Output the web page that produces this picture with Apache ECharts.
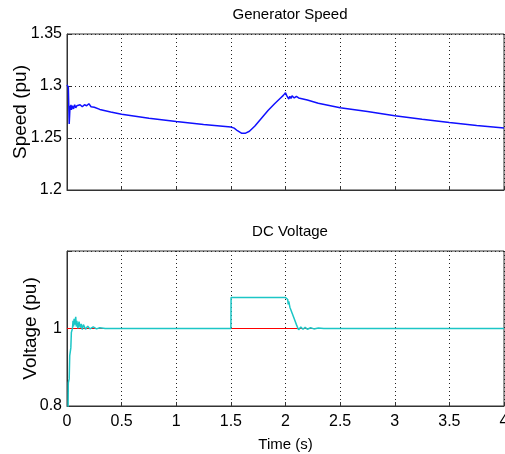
<!DOCTYPE html>
<html>
<head>
<meta charset="utf-8">
<script src="https://cdn.jsdelivr.net/npm/echarts@6/dist/echarts.min.js"></script>
<style>
  html, body { margin: 0; padding: 0; background: #fff; }
  #chart { width: 505px; height: 454px; }
</style>
</head>
<body>
<div id="chart"></div>
<script>
// Generator speed trace (pu) over time (s)
const speedTime = [0, 0.005, 0.012, 0.016, 0.02, 0.024, 0.028, 0.032, 0.036, 0.04, 0.05, 0.06, 0.07, 0.08, 0.09, 0.1, 0.12, 0.14, 0.16, 0.18, 0.2, 0.22, 0.25, 0.3, 0.4, 0.5, 0.75, 1.0, 1.25, 1.5, 1.53, 1.56, 1.6, 1.63, 1.67, 1.72, 1.78, 1.84, 1.9, 1.95, 1.98, 2.0, 2.01, 2.02, 2.03, 2.04, 2.05, 2.06, 2.08, 2.1, 2.12, 2.2, 2.3, 2.5, 2.75, 3.0, 3.25, 3.5, 3.75, 4.0];
const speedValues = [1.301, 1.302, 1.299, 1.282, 1.2635, 1.272, 1.281, 1.278, 1.282, 1.277, 1.281, 1.278, 1.282, 1.279, 1.281, 1.280, 1.282, 1.280, 1.282, 1.281, 1.283, 1.280, 1.2795, 1.2775, 1.275, 1.2728, 1.269, 1.2658, 1.263, 1.2605, 1.2595, 1.257, 1.2545, 1.2545, 1.2565, 1.2615, 1.269, 1.2765, 1.283, 1.288, 1.291, 1.2935, 1.291, 1.2895, 1.2875, 1.290, 1.288, 1.2905, 1.2885, 1.290, 1.2885, 1.2865, 1.2835, 1.279, 1.2755, 1.2715, 1.268, 1.2648, 1.262, 1.2595];

// DC link voltage (pu) and its reference
const dcTime = [0, 0.008, 0.01, 0.012, 0.02, 0.025, 0.035, 0.04, 0.05, 0.055, 0.06, 0.065, 0.07, 0.08, 0.085, 0.09, 0.1, 0.11, 0.12, 0.13, 0.14, 0.15, 0.17, 0.19, 0.21, 0.24, 0.27, 0.3, 0.35, 1.5, 1.502, 2.0, 2.02, 2.025, 2.03, 2.04, 2.05, 2.06, 2.07, 2.08, 2.09, 2.1, 2.11, 2.12, 2.14, 2.16, 2.18, 2.2, 2.23, 2.26, 2.3, 2.35, 4.0];
const dcValues = [0.70, 0.78, 0.80, 0.86, 0.87, 0.93, 0.95, 0.99, 1.0, 1.02, 1.005, 1.025, 1.01, 1.03, 1.005, 1.02, 1.0, 1.018, 1.002, 1.012, 0.997, 1.01, 0.998, 1.006, 0.999, 1.004, 0.999, 1.002, 1.0, 1.0, 1.08, 1.08, 1.075, 1.062, 1.07, 1.055, 1.05, 1.04, 1.035, 1.025, 1.02, 1.01, 1.003, 0.997, 1.004, 0.998, 1.003, 0.998, 1.002, 0.999, 1.001, 1.0, 1.0];
const refTime = [0, 4];
const refValues = [1.0, 1.0];

// Axis settings
const timeTicks = { min: 0, max: 4, interval: 0.5 };
const speedTicks = { min: 1.2, max: 1.35, interval: 0.05 };
const voltageTicks = { min: 0.8, max: 1.2, interval: 0.2 };

const zip = (xs, ys) => xs.map((x, i) => [x, ys[i]]);

const FONT = 'Liberation Sans, Arial, Helvetica, sans-serif';
const gridLine = { show: true, lineStyle: { color: '#222', type: [1, 3], width: 1 } };
const axisLine = { show: true, lineStyle: { color: '#333', width: 1 } };
const axisTick = { show: true, inside: true, length: 4, lineStyle: { color: '#333' } };
const tickLabel = { color: '#000', fontFamily: FONT, fontSize: 16 };
const gridBase = { left: 67, width: 437, show: true, borderColor: '#333', borderWidth: 1,
  backgroundColor: '#fff', containLabel: false, outerBoundsMode: 'none' };

const chart = echarts.init(document.getElementById('chart'), null, { renderer: 'canvas' });

chart.setOption({
  animation: false,
  backgroundColor: '#fff',
  title: [
    { text: 'Generator Speed', left: 285, top: 2, textAlign: 'center',
      textStyle: { fontFamily: FONT, fontSize: 15, fontWeight: 'normal', color: '#000' } },
    { text: 'DC Voltage', left: 285, top: 219, textAlign: 'center',
      textStyle: { fontFamily: FONT, fontSize: 15, fontWeight: 'normal', color: '#000' } }
  ],
  grid: [
    Object.assign({ top: 34, height: 156 }, gridBase),
    Object.assign({ top: 251, height: 155 }, gridBase)
  ],
  xAxis: [
    { type: 'value', gridIndex: 0, min: timeTicks.min, max: timeTicks.max, interval: timeTicks.interval,
      axisLine, axisTick, axisLabel: { show: false }, splitLine: gridLine },
    { type: 'value', gridIndex: 1, min: timeTicks.min, max: timeTicks.max, interval: timeTicks.interval,
      axisLine, axisTick,
      axisLabel: Object.assign({ margin: 8 }, tickLabel),
      splitLine: gridLine,
      name: 'Time (s)', nameLocation: 'middle', nameGap: 31, nameMoveOverlap: false,
      nameTextStyle: { fontFamily: FONT, fontSize: 15, color: '#000' } }
  ],
  yAxis: [
    { type: 'value', gridIndex: 0, min: speedTicks.min, max: speedTicks.max, interval: speedTicks.interval,
      axisLine, axisTick,
      axisLabel: Object.assign({ margin: 5 }, tickLabel),
      splitLine: gridLine,
      name: 'Speed (pu)', nameLocation: 'middle', nameGap: 37, nameMoveOverlap: false,
      nameTextStyle: { fontFamily: FONT, fontSize: 19, color: '#000' } },
    { type: 'value', gridIndex: 1, min: voltageTicks.min, max: voltageTicks.max, interval: voltageTicks.interval,
      axisLine, axisTick,
      axisLabel: Object.assign({ margin: 5, formatter: v => (v > 1.1 ? '' : String(v)) }, tickLabel),
      splitLine: gridLine,
      name: 'Voltage (pu)', nameLocation: 'middle', nameGap: 27, nameMoveOverlap: false,
      nameTextStyle: { fontFamily: FONT, fontSize: 19, color: '#000' } }
  ],
  series: [
    { type: 'line', xAxisIndex: 0, yAxisIndex: 0, data: zip(speedTime, speedValues),
      showSymbol: false, symbol: 'none', clip: true,
      lineStyle: { color: '#1010ff', width: 1.5 } },
    { type: 'line', xAxisIndex: 1, yAxisIndex: 1, data: zip(refTime, refValues),
      showSymbol: false, symbol: 'none', clip: true,
      lineStyle: { color: '#ff0000', width: 1 } },
    { type: 'line', xAxisIndex: 1, yAxisIndex: 1, data: zip(dcTime, dcValues),
      showSymbol: false, symbol: 'none', clip: true,
      lineStyle: { color: '#1cc6c6', width: 1.5 } }
  ]
});
</script>
</body>
</html>
